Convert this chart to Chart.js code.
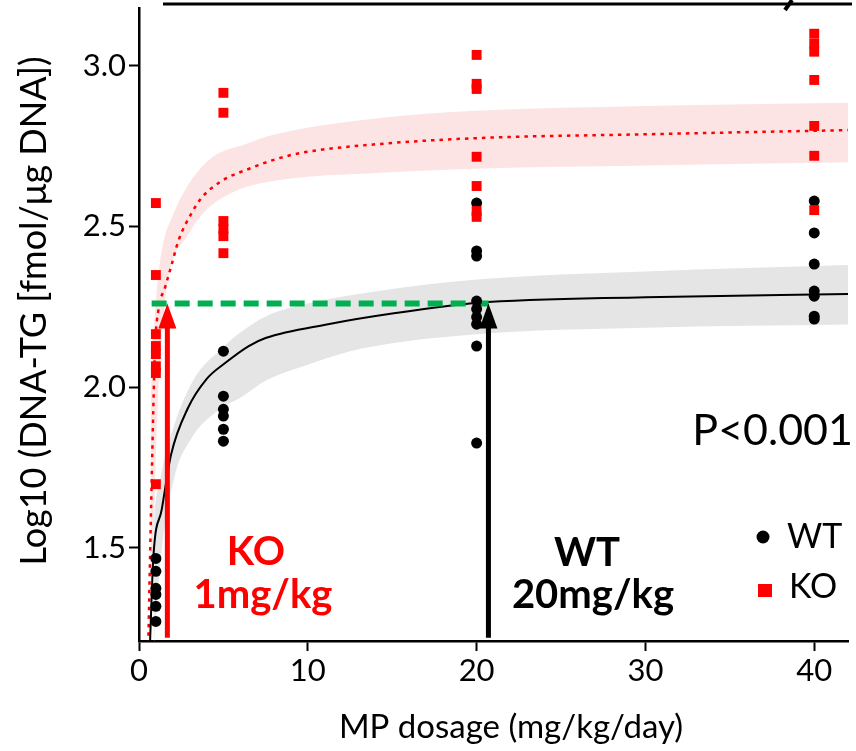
<!DOCTYPE html>
<html>
<head>
<meta charset="utf-8">
<script src="https://cdn.jsdelivr.net/npm/chart.js@4"></script>
<style>
  html, body { margin: 0; padding: 0; background: #fff; }
  #wrap { width: 856px; height: 751px; }
</style>
</head>
<body>
<div id="wrap"><canvas id="myChart" width="856" height="751"></canvas></div>
<script>
// measured points
const wtDose = [1, 1, 1, 1, 1, 1, 5, 5, 5, 5, 5, 5, 20, 20, 20, 20, 20, 20, 20, 20, 20, 40, 40, 40, 40, 40, 40, 40];
const wtValues = [1.467, 1.427, 1.374, 1.355, 1.318, 1.271,
  2.112, 1.972, 1.931, 1.91, 1.869, 1.832,
  2.573, 2.424, 2.408, 2.268, 2.243, 2.218, 2.196, 2.128, 1.826,
  2.579, 2.48, 2.383, 2.299, 2.283, 2.221, 2.212];

const koDose = [1, 1, 1, 1, 1, 1, 1, 1, 5, 5, 5, 5, 5, 5, 20, 20, 20, 20, 20, 20, 20, 40, 40, 40, 40, 40, 40, 40];
const koValues = [2.573, 2.349, 2.165, 2.128, 2.103, 2.065, 2.044, 1.698,
  2.916, 2.854, 2.517, 2.492, 2.47, 2.417,
  3.034, 2.944, 2.928, 2.717, 2.626, 2.548, 2.53,
  3.1, 3.069, 3.044, 2.956, 2.813, 2.72, 2.551];

// fitted curves
const wtFitDose = [0.65, 0.85, 1.35, 1.9, 2.9, 4, 5.1, 6.5, 7.5, 11.2, 15.1, 20, 30, 42];
const wtFitValues = [1.2, 1.47, 1.62, 1.79, 1.935, 2.025, 2.075, 2.128, 2.153, 2.196, 2.23, 2.262, 2.28, 2.29];
const wtBandUpDose = [0.7, 0.85, 1.25, 1.95, 3.2, 4.9, 6, 7.5, 10, 14.3, 20, 30, 42];
const wtBandUp = [1.3, 1.55, 1.71, 1.86, 2.02, 2.12, 2.17, 2.22, 2.26, 2.3, 2.335, 2.36, 2.38];
const wtBandLowDose = [0.9, 1.3, 2.1, 3.1, 4.5, 6.1, 7.5, 10, 13.2, 20, 30, 42];
const wtBandLow = [1.2, 1.47, 1.72, 1.84, 1.92, 1.97, 2.02, 2.07, 2.12, 2.165, 2.185, 2.195];

const koFitDose = [0.55, 0.75, 0.95, 1.15, 1.54, 1.94, 2.33, 3.13, 3.72, 4.91, 6.69, 8.07, 9.7, 14.3, 20, 30, 42];
const koFitValues = [1.2, 1.707, 2.12, 2.24, 2.31, 2.382, 2.455, 2.543, 2.59, 2.642, 2.683, 2.709, 2.73, 2.757, 2.775, 2.787, 2.8];
const koBandUpDose = [0.45, 0.6, 0.8, 1.05, 1.4, 1.94, 2.93, 4.31, 6.29, 8.07, 14.3, 20, 30, 42];
const koBandUp = [1.2, 1.75, 2.1, 2.3, 2.44, 2.527, 2.631, 2.714, 2.756, 2.787, 2.838, 2.86, 2.875, 2.885];
const koBandLowDose = [0.7, 0.95, 1.2, 1.45, 1.74, 2.93, 3.92, 5.7, 8.07, 14.3, 20, 30, 42];
const koBandLow = [1.2, 1.7, 2.05, 2.22, 2.34, 2.476, 2.548, 2.61, 2.642, 2.667, 2.68, 2.69, 2.7];

// reference level and arrows
const levelDose = [0.75, 21];
const levelValues = [2.26, 2.26];
const arrowDose = [1.68, 20.7];
const arrowFrom = [1.22, 1.22];
const arrowTo = [2.26, 2.26];
const arrowColors = ['#ff0000', '#000000'];

const xTicks = [0, 10, 20, 30, 40];
const yTicks = [1.5, 2.0, 2.5, 3.0];

const fontFamily = "Lato, 'Open Sans', sans-serif";

function pts(xs, ys) {
  return xs.map((x, i) => ({ x: x, y: ys[i] }));
}

const extras = {
  id: 'extras',
  afterDatasetsDraw(chart) {
    const ctx = chart.ctx;
    const xs = chart.scales.x;
    const ys = chart.scales.y;
    ctx.save();
    for (let i = 0; i < arrowDose.length; i++) {
      const x = xs.getPixelForValue(arrowDose[i]);
      const y0 = ys.getPixelForValue(arrowFrom[i]);
      const y1 = ys.getPixelForValue(arrowTo[i]);
      ctx.strokeStyle = arrowColors[i];
      ctx.fillStyle = arrowColors[i];
      ctx.lineWidth = 5;
      ctx.beginPath();
      ctx.moveTo(x, y0);
      ctx.lineTo(x, y1 + 20);
      ctx.stroke();
      ctx.beginPath();
      ctx.moveTo(x, y1);
      ctx.lineTo(x - 9, y1 + 25);
      ctx.lineTo(x + 9, y1 + 25);
      ctx.closePath();
      ctx.fill();
    }
    ctx.restore();
  },
  afterDraw(chart) {
    const ctx = chart.ctx;
    ctx.save();
    // piece of the heading line above the chart
    ctx.strokeStyle = '#000';
    ctx.lineWidth = 3;
    ctx.beginPath();
    ctx.moveTo(163, 4);
    ctx.lineTo(852, 4);
    ctx.stroke();
    ctx.lineWidth = 4;
    ctx.beginPath();
    ctx.moveTo(785, 10);
    ctx.lineTo(792, 0);
    ctx.stroke();

    ctx.fillStyle = '#000';
    ctx.textBaseline = 'alphabetic';

    // axis titles
    ctx.font = '33px ' + fontFamily;
    ctx.textAlign = 'center';
    ctx.fillText('MP dosage (mg/kg/day)', 511, 738);
    ctx.save();
    ctx.translate(46, 311);
    ctx.rotate(-Math.PI / 2);
    ctx.font = '36px ' + fontFamily;
    ctx.fillText('Log10 (DNA-TG [fmol/\u03bcg DNA])', 0, 0);
    ctx.restore();

    // annotations
    ctx.font = 'bold 40px ' + fontFamily;
    ctx.fillStyle = '#ff0000';
    ctx.fillText('KO', 256, 565);
    ctx.fillText('1mg/kg', 263, 608);
    ctx.fillStyle = '#000';
    ctx.fillText('WT', 587, 566);
    ctx.fillText('20mg/kg', 593, 608);

    ctx.font = '43px ' + fontFamily;
    ctx.textAlign = 'right';
    ctx.fillText('P<0.001', 853, 445);

    // legend
    ctx.beginPath();
    ctx.arc(763, 537, 6.5, 0, Math.PI * 2);
    ctx.fill();
    ctx.fillStyle = '#ff0000';
    ctx.fillRect(758, 584, 14, 13);
    ctx.fillStyle = '#000';
    ctx.font = '34px ' + fontFamily;
    ctx.textAlign = 'left';
    ctx.fillText('WT', 787, 548);
    ctx.fillText('KO', 789, 598);
    ctx.restore();
  }
};

const ctx = document.getElementById('myChart');
const myChart = new Chart(ctx, {
  type: 'line',
  data: {
    datasets: [
      {
        label: 'KO',
        data: pts(koDose, koValues),
        showLine: false,
        pointStyle: 'rect',
        pointRadius: 7,
        pointBorderWidth: 0,
        pointBackgroundColor: '#ff0000',
        order: 0
      },
      {
        label: 'WT',
        data: pts(wtDose, wtValues),
        showLine: false,
        pointStyle: 'circle',
        pointRadius: 5.5,
        pointBorderWidth: 0,
        pointBackgroundColor: '#000000',
        order: 1
      },
      {
        label: 'level',
        data: pts(levelDose, levelValues),
        borderColor: '#00b050',
        borderWidth: 6,
        borderDash: [15, 8],
        pointRadius: 0,
        order: 2
      },
      {
        label: 'WT fit',
        data: pts(wtFitDose, wtFitValues),
        borderColor: '#000000',
        borderWidth: 2,
        cubicInterpolationMode: 'monotone',
        pointRadius: 0,
        order: 3
      },
      {
        label: 'KO fit',
        data: pts(koFitDose, koFitValues),
        borderColor: '#ff0000',
        borderWidth: 2.5,
        borderDash: [3.5, 5],
        cubicInterpolationMode: 'monotone',
        pointRadius: 0,
        order: 3
      },
      {
        label: 'WT band up',
        data: pts(wtBandUpDose, wtBandUp),
        borderWidth: 0,
        pointRadius: 0,
        cubicInterpolationMode: 'monotone',
        fill: '+1',
        backgroundColor: 'rgb(229,229,229)',
        order: 5
      },
      {
        label: 'WT band low',
        data: pts(wtBandLowDose, wtBandLow),
        borderWidth: 0,
        pointRadius: 0,
        cubicInterpolationMode: 'monotone',
        fill: false,
        order: 5
      },
      {
        label: 'KO band up',
        data: pts(koBandUpDose, koBandUp),
        borderWidth: 0,
        pointRadius: 0,
        cubicInterpolationMode: 'monotone',
        fill: '+1',
        backgroundColor: 'rgb(252,228,228)',
        order: 5
      },
      {
        label: 'KO band low',
        data: pts(koBandLowDose, koBandLow),
        borderWidth: 0,
        pointRadius: 0,
        cubicInterpolationMode: 'monotone',
        fill: false,
        order: 5
      }
    ]
  },
  options: {
    responsive: false,
    animation: false,
    layout: { padding: { left: 0, top: 8, right: 8, bottom: 0 } },
    plugins: {
      legend: { display: false },
      tooltip: { enabled: false }
    },
    scales: {
      x: {
        type: 'linear',
        min: 0,
        max: 42,
        afterBuildTicks: s => { s.ticks = xTicks.map(v => ({ value: v })); },
        afterFit: s => { s.height = 110; s.paddingLeft = 0; s.paddingRight = 0; },
        ticks: {
          color: '#000',
          font: { family: fontFamily, size: 31 },
          padding: 1,
          maxRotation: 0
        },
        grid: { drawOnChartArea: false, tickLength: 10, tickWidth: 2, tickColor: '#000' },
        border: { color: '#000', width: 2.5 }
      },
      y: {
        min: 1.21,
        max: 3.18,
        afterBuildTicks: s => { s.ticks = yTicks.map(v => ({ value: v })); },
        afterFit: s => { s.width = 139; s.paddingTop = 0; s.paddingBottom = 0; },
        ticks: {
          color: '#000',
          font: { family: fontFamily, size: 31 },
          padding: 3,
          callback: v => v.toFixed(1)
        },
        grid: { drawOnChartArea: false, tickLength: 10, tickWidth: 2, tickColor: '#000' },
        border: { color: '#000', width: 2.5 }
      }
    }
  },
  plugins: [extras]
});
</script>
</body>
</html>
